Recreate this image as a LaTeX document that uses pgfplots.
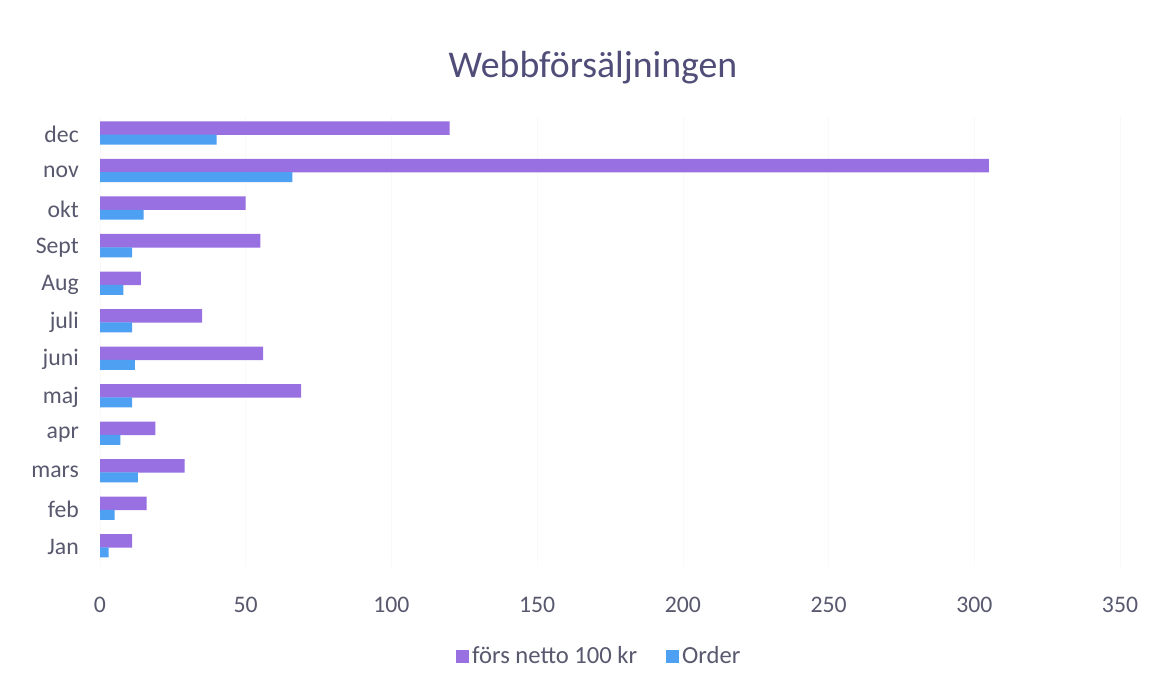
\documentclass[border=0pt]{standalone}
\usepackage{pgfplots}
\pgfplotsset{compat=1.18}
\usepackage{fontspec}
\setmainfont{Carlito}
\definecolor{purp}{RGB}{152,112,226}
\definecolor{blu}{RGB}{78,160,242}
\definecolor{txt}{RGB}{88,88,110}
\definecolor{ttl}{RGB}{80,78,120}
\begin{document}
\begin{tikzpicture}
\path[use as bounding box, fill=white] (0,0) rectangle (23.24cm,13.82cm);
\begin{axis}[
  at={(2.0cm,2.5cm)}, anchor=south west,
  scale only axis, width=20.4cm, height=9cm,
  xbar, xmin=0, xmax=350,
  ymin=-0.5, ymax=11.5,
  ytick={0,...,11},
  yticklabels={Jan,feb,mars,apr,maj,juni,juli,Aug,Sept,okt,nov,dec},
  xtick={0,50,...,350},
  axis line style={draw=none},
  major tick length=0pt,
  xmajorgrids, grid style={draw=gray!5},
  tick label style={font=\fontsize{13.5}{15}\selectfont, text=txt},
  xticklabel style={yshift=-0.5cm},
  yticklabel style={xshift=-0.3cm},
  /pgf/number format/assume math mode=true,
  legend style={at={(0.49,-0.2)}, anchor=center, draw=none, legend columns=2,
    font=\fontsize{14}{16}\selectfont, text=txt, /tikz/every even column/.append style={column sep=0.5cm}},
  legend image code/.code={\fill[#1] (0cm,-0.13cm) rectangle (0.26cm,0.13cm);},
]
\addplot[fill=purp, draw=none, bar width=0.27cm, bar shift=0.13cm] coordinates {
(11,0) (16,1) (29,2) (19,3) (69,4) (56,5) (35,6) (14,7) (55,8) (50,9) (305,10) (120,11)};
\addplot[fill=blu, draw=none, bar width=0.2cm, bar shift=-0.1cm] coordinates {
(3,0) (5,1) (13,2) (7,3) (11,4) (12,5) (11,6) (8,7) (11,8) (15,9) (66,10) (40,11)};
\legend{förs netto 100 kr, Order}
\end{axis}
\node[font=\fontsize{21.5}{26}\selectfont, text=ttl] at (11.86cm,12.46cm) {Webbförsäljningen};
\end{tikzpicture}
\end{document}
